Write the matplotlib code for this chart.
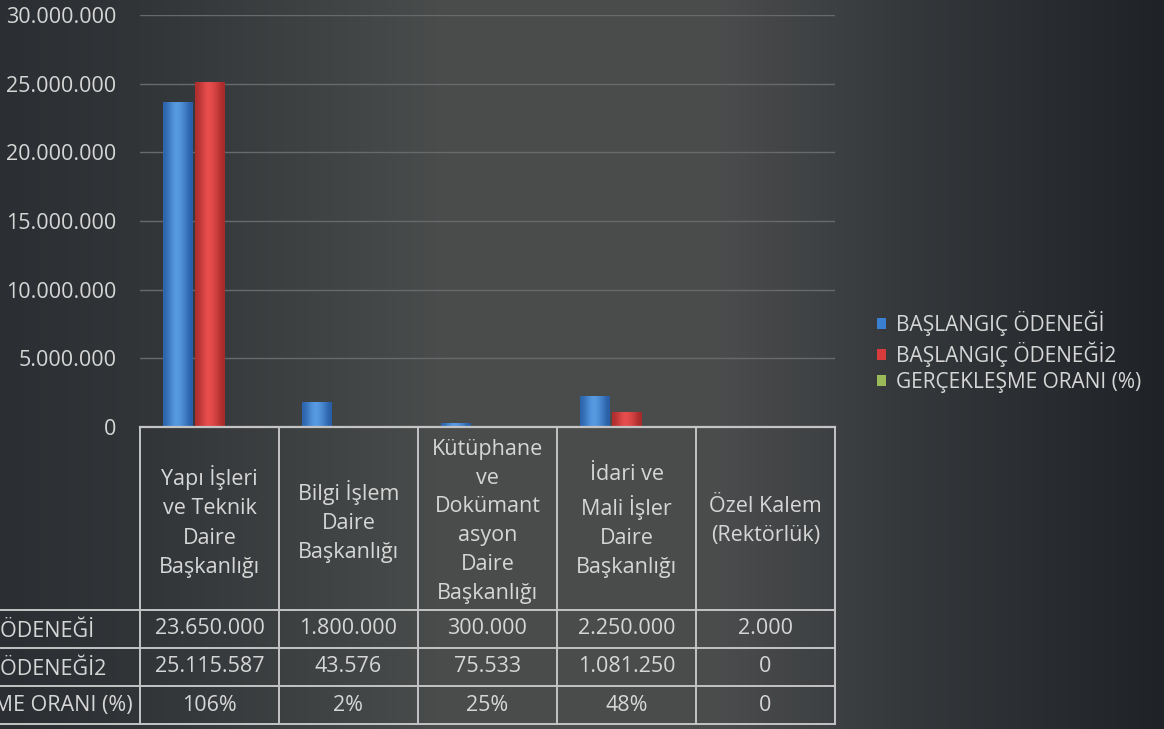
import numpy as np
import matplotlib
matplotlib.use('Agg')
import matplotlib.pyplot as plt
from matplotlib.transforms import blended_transform_factory
from matplotlib.patches import Patch
from matplotlib.colors import LinearSegmentedColormap

plt.rcParams['font.family'] = ['Open Sans', 'DejaVu Sans']

# Data
categories = ['Yapı İşleri\nve Teknik\nDaire\nBaşkanlığı',
              'Bilgi İşlem\nDaire\nBaşkanlığı',
              'Kütüphane\nve\nDokümant\nasyon\nDaire\nBaşkanlığı',
              'İdari ve\nMali İşler\nDaire\nBaşkanlığı',
              'Özel Kalem\n(Rektörlük)']
series_names = ['BAŞLANGIÇ ÖDENEĞİ', 'BAŞLANGIÇ ÖDENEĞİ2', 'GERÇEKLEŞME ORANI (%)']
baslangic = [23650000, 1800000, 300000, 2250000, 2000]
baslangic2 = [25115587, 43576, 75533, 1081250, 0]
oran = [1.06, 0.02, 0.25, 0.48, 0]
colors = ['#3b7fd2', '#d83b3b', '#9bbb59']
shades = [('#285ea6', '#5a9fe6'), ('#a82a2a', '#ec5050'), ('#738a3e', '#b6d477')]

txt_color = '#d6d6d6'
line_color = '#c4c4c4'
fs = 15.5

def dots(v):
    return f"{v:,}".replace(',', '.')

def pct(v):
    return '0' if v == 0 else f"{round(v * 100)}%"

fig = plt.figure(figsize=(11.64, 7.29), dpi=100)

# background gradient
bg = fig.add_axes([0, 0, 1, 1], zorder=-1)
xs = np.linspace(0, 1164, 1164)
stops = [0, 140, 450, 720, 900, 1164]
r = np.interp(xs, stops, [0x2b, 0x32, 0x4a, 0x4a, 0x36, 0x1f])
g = np.interp(xs, stops, [0x2e, 0x35, 0x4d, 0x4c, 0x39, 0x22])
b = np.interp(xs, stops, [0x32, 0x38, 0x4c, 0x4d, 0x3c, 0x26])
grad = np.dstack([r, g, b])[0] / 255.0
bg.imshow(grad[None, :, :], aspect='auto', extent=[0, 1, 0, 1])
bg.axis('off')

# plot area
top_px, base_px = 15, 427
ax = fig.add_axes([140 / 1164, 1 - base_px / 729, 695 / 1164, (base_px - top_px) / 729])
ax.patch.set_alpha(0)

x = np.arange(len(categories))
w = 0.215
off = 0.227
shade = np.array([[0.1, 0.55, 0.95, 0.8, 0.45, 0.0]])
for i, (vals, c, sh) in enumerate(zip([baslangic, baslangic2, oran], colors, shades)):
    bars = ax.bar(x + (i - 1) * off, vals, width=w, color=c, linewidth=0, zorder=3)
    cmap = LinearSegmentedColormap.from_list('s%d' % i, list(sh))
    for p in bars:
        if p.get_height() <= 0:
            continue
        im = ax.imshow(shade, cmap=cmap, aspect='auto', interpolation='bicubic',
                       extent=[p.get_x(), p.get_x() + p.get_width(), 0, p.get_height()],
                       zorder=3.5)
        im.set_clip_path(p)

ax.set_xlim(-0.5, len(categories) - 0.5)
ax.set_ylim(0, 30000000)
yt = np.arange(0, 30000001, 5000000)
ax.set_yticks(yt)
ax.set_yticklabels([dots(int(v)) for v in yt])
ax.tick_params(axis='y', length=0, pad=17, labelsize=fs, labelcolor=txt_color)
ax.set_xticks([])
ax.yaxis.grid(True, color='#67696b', linewidth=1, zorder=0)
for s in ax.spines.values():
    s.set_visible(False)

# data table below the axis
tr = blended_transform_factory(ax.transData, ax.transAxes)
h = base_px - top_px

def yf(px):
    return (base_px - px) / h

row_lines = [610, 648, 686, 724]
row_centers = [629, 667, 705]
left_edge = -0.5
right_edge = len(categories) - 0.5

ax.plot([left_edge, right_edge], [0, 0], transform=tr, color=line_color,
        lw=1.6, clip_on=False, zorder=4)
for p in row_lines:
    ax.plot([-2, right_edge], [yf(p), yf(p)], transform=tr, color=line_color,
            lw=1.4, clip_on=False)
for xv in np.arange(left_edge, right_edge + 0.01, 1):
    ax.plot([xv, xv], [0, yf(row_lines[-1])], transform=tr, color=line_color,
            lw=1.4, clip_on=False)

for i, cat in enumerate(categories):
    ax.text(i, yf((base_px + row_lines[0]) / 2 + 3), cat, transform=tr, ha='center',
            va='center', fontsize=fs, color=txt_color, linespacing=1.5, clip_on=False)

rows = [[dots(v) for v in baslangic], [dots(v) for v in baslangic2], [pct(v) for v in oran]]
for vals, yc in zip(rows, row_centers):
    for i, v in enumerate(vals):
        ax.text(i, yf(yc), v, transform=tr, ha='center', va='center',
                fontsize=fs, color=txt_color, clip_on=False)

# row headers: left aligned, longest one ends just before the first column
longest = ax.text(left_edge - 0.05, yf(row_centers[2]), series_names[2], transform=tr,
                  ha='right', va='center', fontsize=fs, color=txt_color, clip_on=False)
fig.canvas.draw()
x0 = longest.get_window_extent().x0
x0_data = ax.transData.inverted().transform((x0, 0))[0]
for name, yc in zip(series_names[:2], row_centers[:2]):
    ax.text(x0_data, yf(yc), name, transform=tr, ha='left', va='center',
            fontsize=fs, color=txt_color, clip_on=False)

# legend
handles = [Patch(facecolor=c, edgecolor='none') for c in colors]
fig.legend(handles, series_names, loc='center left',
           bbox_to_anchor=(858 / 1164, 1 - 352 / 729), frameon=False,
           fontsize=15, labelcolor=txt_color, handlelength=0.45, handleheight=0.45,
           handletextpad=0.45, labelspacing=0.25)

fig.savefig('out.png', dpi=100)
